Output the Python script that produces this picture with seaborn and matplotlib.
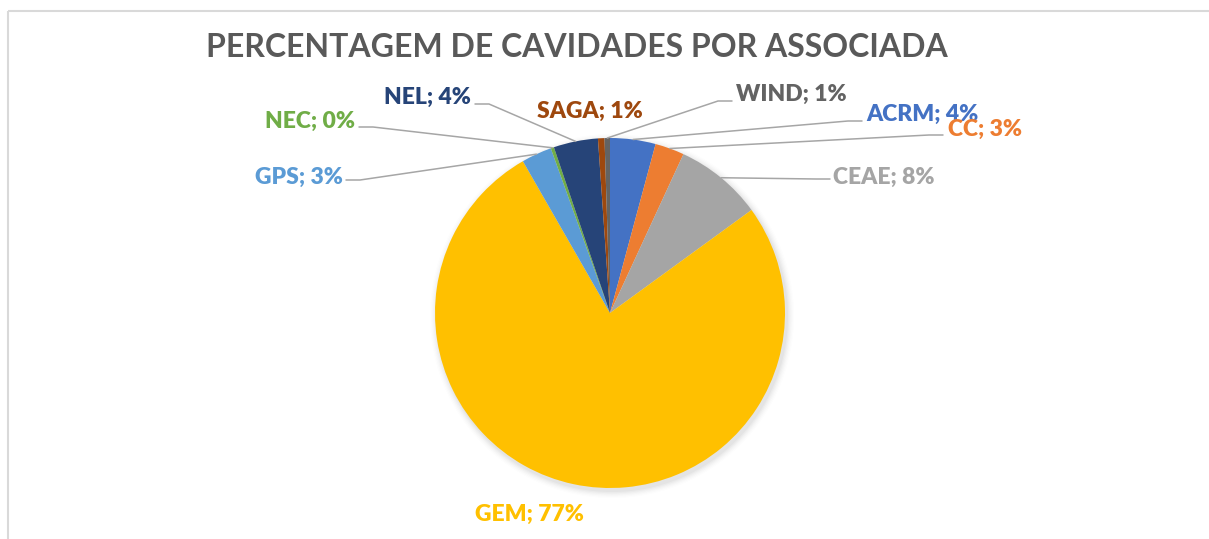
import numpy as np
import seaborn as sns
from matplotlib import pyplot as plt
from matplotlib.patches import Circle

# dados (percentagem de cavidades por associada)
associadas = ["ACRM", "CC", "CEAE", "GEM", "GPS", "NEC", "NEL", "SAGA", "WIND"]
percentuais = [4.2, 2.7, 8.1, 76.8, 2.8, 0.3, 4.1, 0.6, 0.5]
rotulos = ["4%", "3%", "8%", "77%", "3%", "0%", "4%", "1%", "1%"]
cores = ["#4472C4", "#ED7D31", "#A5A5A5", "#FFC000", "#5B9BD5",
         "#70AD47", "#264478", "#9E480E", "#636363"]

TITULO = "PERCENTAGEM DE CAVIDADES POR ASSOCIADA"

W, H = 1209, 539
CX, CY, R = 610, 313, 175

# posição dos rótulos (px, origem no topo): x, linha de base, alinhamento, ponta do fio
LAYOUT = {
    "WIND": (736, 101, "left", (732, 101)),
    "ACRM": (866, 121, "left", (862, 121)),
    "CC": (948, 136, "left", (943, 135)),
    "CEAE": (833, 184, "left", (830, 179)),
    "GEM": (529, 521, "center", None),
    "GPS": (343, 184, "right", (346, 180)),
    "NEC": (355, 128, "right", (359, 127)),
    "NEL": (471, 104, "right", (475, 104)),
    "SAGA": (590, 118, "center", None),
}

sns.set_theme(style="white")
plt.rcParams["font.family"] = ["Lato", "DejaVu Sans"]

fig = plt.figure(figsize=(W / 100, H / 100), dpi=100)
ax = fig.add_axes([0, 0, 1, 1])


def py(y):
    return H - y


# moldura cinza clara (só topo e esquerda aparecem)
ax.plot([8, W], [py(11), py(11)], color="#D9D9D9", lw=1.5, solid_capstyle="butt")
ax.plot([8, 8], [py(11), 0], color="#D9D9D9", lw=1.5, solid_capstyle="butt")

# sombra suave do gráfico
for k, a in enumerate(np.linspace(0.05, 0.012, 6)):
    ax.add_patch(Circle((CX + 2, py(CY) - 3), R + 1 + k * 1.2,
                        color="#7F7F7F", alpha=a, lw=0, zorder=1))

wedges, _ = ax.pie(
    percentuais,
    colors=cores,
    startangle=90,
    counterclock=False,
    center=(CX, py(CY)),
    radius=R,
    wedgeprops={"linewidth": 0, "zorder": 2},
    frame=True,
)
ax.set_xlim(0, W)
ax.set_ylim(0, H)
ax.set_aspect("equal")
ax.axis("off")

for nome, w, rot, cor in zip(associadas, wedges, rotulos, cores):
    tx, ty, ha, ponta = LAYOUT[nome]
    ax.text(tx, py(ty), f"{nome}; {rot}", color=cor, fontsize=16.5,
            fontweight="heavy", ha=ha, va="baseline", zorder=5)
    if ponta is None:
        continue
    ang = np.deg2rad((w.theta1 + w.theta2) / 2)
    ox, oy = CX + R * np.cos(ang), py(CY) + R * np.sin(ang)
    ex, ey = ponta
    dx = -14 if ha == "left" else 14
    ax.plot([ox, ex + dx, ex], [oy, py(ey), py(ey)], color="#A6A6A6",
            lw=1.1, zorder=3, solid_joinstyle="miter")

ax.text(577, py(57), TITULO, color="#595959", fontsize=23, fontweight="bold",
        ha="center", va="baseline")

fig.savefig("out.png", dpi=100, facecolor="white")
